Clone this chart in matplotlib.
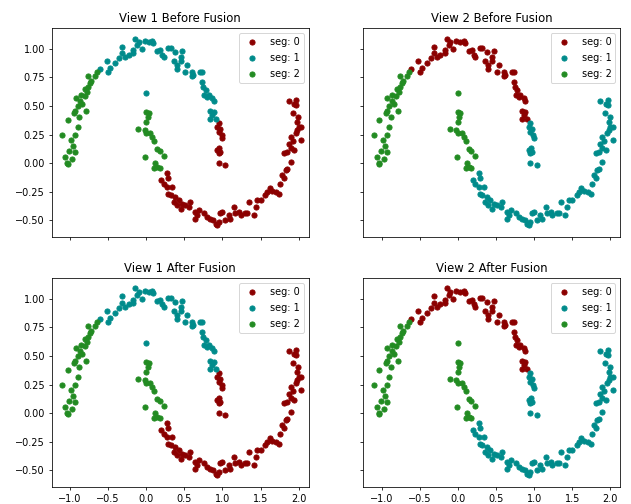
import matplotlib
matplotlib.use('Agg')
import matplotlib.pyplot as plt
import numpy as np

# point groups, (x, y); same positions in all four panels
upper_left = np.array([
    (-1.10, 0.25), (-0.93, 0.25), (-0.90, 0.32), (-1.01, 0.11), (-0.96, 0.15),
    (-0.93, 0.10), (-1.04, 0.00), (-1.03, -0.01), (-0.97, 0.035), (-1.03, 0.38),
    (-0.93, 0.46), (-0.88, 0.40), (-0.79, 0.46), (-0.925, 0.57), (-0.87, 0.54),
    (-0.81, 0.59), (-0.78, 0.625), (-0.76, 0.67), (-0.74, 0.70), (-0.76, 0.76),
    (-0.67, 0.76), (-0.64, 0.80), (-0.90, 0.50), (-0.84, 0.52), (-0.80, 0.65),
    (-0.72, 0.72), (-0.95, 0.44), (-1.06, 0.05), (-0.99, 0.20), (-0.86, 0.60),
])
upper_mid = np.array([
    (-0.61, 0.82), (-0.50, 0.80), (-0.47, 0.83), (-0.52, 0.89), (-0.41, 0.875),
    (-0.36, 0.92), (-0.32, 1.02), (-0.32, 0.96), (-0.23, 0.95), (-0.17, 0.99),
    (-0.12, 1.035), (-0.145, 1.09), (-0.10, 1.06), (-0.17, 0.96), (-0.06, 1.00),
    (0.03, 1.06), (0.075, 1.07), (0.09, 1.05), (0.14, 0.98), (0.18, 0.99),
    (0.21, 0.95), (0.23, 0.93), (0.29, 1.005), (0.36, 0.89), (0.38, 0.97),
    (0.45, 0.89), (0.47, 0.98), (0.40, 0.82), (0.535, 0.86), (0.60, 0.80),
    (0.62, 0.77), (0.71, 0.80), (0.73, 0.71), (0.745, 0.67), (0.78, 0.64),
    (0.82, 0.60), (0.865, 0.57), (0.885, 0.54), (0.84, 0.46), (0.885, 0.45),
    (0.865, 0.42), (0.84, 0.39), (0.91, 0.39), (0.60, 0.76), (0.73, 0.80),
    (0.755, 0.60), (0.80, 0.58), (0.40, 0.86), (0.51, 0.80), (0.32, 1.01),
    (0.45, 0.93), (-0.02, 1.07), (-0.28, 0.93),
])
upper_end = np.array([
    (0.95, 0.35), (0.97, 0.30), (0.95, 0.27), (0.99, 0.25), (0.93, 0.32),
    (1.00, 0.22), (0.93, 0.115), (0.97, 0.10), (0.95, 0.085), (0.95, 0.00),
    (1.04, -0.02), (0.96, 0.13),
])
lower_tip = np.array([
    (0.00, 0.445), (0.03, 0.435), (0.00, 0.36), (-0.11, 0.30), (-0.02, 0.29),
    (0.00, 0.26), (0.05, 0.26), (0.075, 0.23), (0.10, 0.19), (0.14, 0.12),
    (0.175, 0.105), (0.23, 0.06), (-0.01, 0.05), (0.12, 0.005), (0.10, -0.04),
    (0.14, -0.03), (0.175, -0.04), (0.02, 0.40),
])
tip_top = np.array([(0.00, 0.61)])
lower_arc = np.array([
    (0.27, -0.09), (0.29, -0.13), (0.23, -0.18), (0.27, -0.21), (0.34, -0.21),
    (0.32, -0.28), (0.38, -0.295), (0.36, -0.34), (0.425, -0.325), (0.40, -0.37),
    (0.47, -0.355), (0.51, -0.37), (0.58, -0.34), (0.56, -0.38), (0.645, -0.43),
    (0.665, -0.455), (0.69, -0.41), (0.645, -0.485), (0.755, -0.44), (0.80, -0.47),
    (0.84, -0.485), (0.91, -0.53), (0.93, -0.545), (0.95, -0.515), (0.97, -0.44),
    (1.00, -0.43), (1.04, -0.50), (1.105, -0.485), (1.15, -0.38), (1.17, -0.44),
    (1.215, -0.43), (1.24, -0.455), (1.30, -0.44), (1.35, -0.34), (1.325, -0.44),
    (1.41, -0.455), (1.435, -0.38), (1.455, -0.325), (1.50, -0.325), (1.565, -0.28),
    (1.59, -0.25), (1.655, -0.24), (1.70, -0.25), (1.74, -0.27), (1.76, -0.18),
    (1.81, -0.13), (1.785, -0.105), (1.83, -0.06), (1.85, -0.05), (1.895, 0.01),
    (1.81, 0.085), (1.85, 0.10), (1.895, 0.13), (1.94, 0.115), (1.87, 0.17),
    (1.92, 0.19), (1.895, 0.23), (1.96, 0.26), (2.03, 0.20), (1.98, 0.29),
    (2.03, 0.32), (1.87, 0.54), (1.94, 0.52), (1.97, 0.51), (1.93, 0.435),
    (2.00, 0.32), (1.97, 0.55), (1.99, 0.40), (0.20, -0.15), (0.29, -0.27),
    (0.45, -0.40), (0.88, -0.50), (1.08, -0.45), (1.62, -0.22), (1.98, 0.36),
])

groups = [upper_left, upper_mid, upper_end, lower_tip, tip_top, lower_arc]
seg_view1 = [2, 1, 0, 2, 1, 0]
seg_view2 = [2, 0, 1, 2, 2, 1]

titles = ['View 1 Before Fusion', 'View 2 Before Fusion',
          'View 1 After Fusion', 'View 2 After Fusion']
colors = ['darkred', 'darkcyan', 'forestgreen']

pts = np.vstack(groups)
lab1 = np.concatenate([np.full(len(g), s) for g, s in zip(groups, seg_view1)])
lab2 = np.concatenate([np.full(len(g), s) for g, s in zip(groups, seg_view2)])
labels = [lab1, lab2, lab1, lab2]

fig, axes = plt.subplots(2, 2, figsize=(631 / 70, 7.2), sharex=True, sharey=True)
plt.subplots_adjust(left=0.082, right=0.983, bottom=0.034, top=0.944,
                    wspace=0.214, hspace=0.198)

for ax, title, lab in zip(axes.flat, titles, labels):
    for k in range(3):
        m = lab == k
        ax.scatter(pts[m, 0], pts[m, 1], s=28, c=colors[k], label=f'seg: {k}')
    ax.set_title(title)
    ax.legend(loc='upper right', labelspacing=0.6)

axes[0, 0].set_xlim(-1.24, 2.13)
axes[0, 0].set_ylim(-0.645, 1.18)

fig.savefig('out.png', dpi=70)
